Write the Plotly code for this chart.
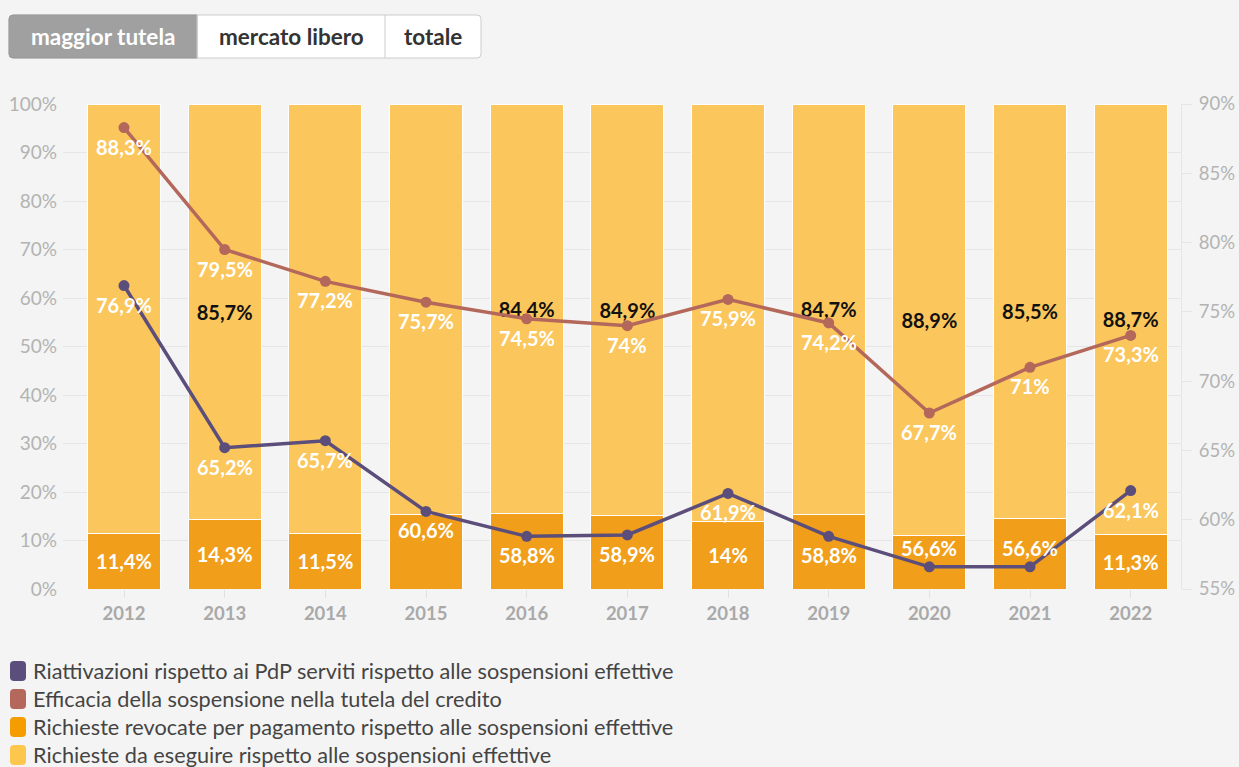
import plotly.graph_objects as go

years = ["2012", "2013", "2014", "2015", "2016", "2017", "2018", "2019", "2020", "2021", "2022"]
revocate = [11.4, 14.3, 11.5, 15.4, 15.6, 15.1, 14.0, 15.3, 11.1, 14.5, 11.3]
da_eseguire = [88.6, 85.7, 88.5, 84.6, 84.4, 84.9, 86.0, 84.7, 88.9, 85.5, 88.7]
efficacia = [88.3, 79.5, 77.2, 75.7, 74.5, 74.0, 75.9, 74.2, 67.7, 71.0, 73.3]
riattivazioni = [76.9, 65.2, 65.7, 60.6, 58.8, 58.9, 61.9, 58.8, 56.6, 56.6, 62.1]
# bar labels that are hidden in the original (overlapping with line labels)
show_revocate = [True, True, True, False, False, False, True, False, False, False, True]
show_eseguire = [False, True, False, False, True, True, False, True, True, True, True]

left_ticks = [0, 10, 20, 30, 40, 50, 60, 70, 80, 90, 100]
right_ticks = [55, 60, 65, 70, 75, 80, 85, 90]

series_names = [
    "Riattivazioni rispetto ai PdP serviti rispetto alle sospensioni effettive",
    "Efficacia della sospensione nella tutela del credito",
    "Richieste revocate per pagamento rispetto alle sospensioni effettive",
    "Richieste da eseguire rispetto alle sospensioni effettive",
]
buttons = ["maggior tutela", "mercato libero", "totale"]

C_PURPLE = "#5c4e7a"
C_RED = "#b3685b"
C_ORANGE = "#f19e1b"
C_YELLOW = "#fbc65b"
FONT = "Lato"

W, H = 1239, 767
ML, MR, MT, MB = 63, 58, 104, 178
PW = W - ML - MR
PH = H - MT - MB


def fmt(v):
    s = f"{v:.1f}"
    if s.endswith(".0"):
        s = s[:-2]
    return s.replace(".", ",") + "%"


def X(px):
    return (px - ML) / PW


def Y(py):
    return (H - MB - py) / PH


def rrect(x0, y0, x1, y1, r, rl=True, rr=True):
    p = []
    if rl:
        p.append(f"M{X(x0)},{Y(y0 + r)}")
        p.append(f"Q{X(x0)},{Y(y0)} {X(x0 + r)},{Y(y0)}")
    else:
        p.append(f"M{X(x0)},{Y(y0)}")
    if rr:
        p.append(f"L{X(x1 - r)},{Y(y0)}")
        p.append(f"Q{X(x1)},{Y(y0)} {X(x1)},{Y(y0 + r)}")
        p.append(f"L{X(x1)},{Y(y1 - r)}")
        p.append(f"Q{X(x1)},{Y(y1)} {X(x1 - r)},{Y(y1)}")
    else:
        p.append(f"L{X(x1)},{Y(y0)}")
        p.append(f"L{X(x1)},{Y(y1)}")
    if rl:
        p.append(f"L{X(x0 + r)},{Y(y1)}")
        p.append(f"Q{X(x0)},{Y(y1)} {X(x0)},{Y(y1 - r)}")
    else:
        p.append(f"L{X(x0)},{Y(y1)}")
    p.append("Z")
    return " ".join(p)


fig = go.Figure()

fig.add_trace(go.Bar(
    x=years, y=revocate, name=series_names[2],
    marker=dict(color=C_ORANGE, line=dict(color="#ffffff", width=1)),
    text=[fmt(v) if s else "" for v, s in zip(revocate, show_revocate)],
    textposition="inside", insidetextanchor="middle",
    textfont=dict(family=FONT, size=20, color="#ffffff", weight="bold"),
    constraintext="none", hoverinfo="skip",
))
fig.add_trace(go.Bar(
    x=years, y=da_eseguire, name=series_names[3],
    marker=dict(color=C_YELLOW, line=dict(color="#ffffff", width=1)),
    text=[fmt(v) if s else "" for v, s in zip(da_eseguire, show_eseguire)],
    textposition="inside", insidetextanchor="middle",
    textfont=dict(family=FONT, size=20, color="#111111", weight="bold"),
    constraintext="none", hoverinfo="skip",
))
fig.add_trace(go.Scatter(
    x=years, y=efficacia, name=series_names[1], yaxis="y2",
    mode="lines+markers",
    line=dict(color=C_RED, width=3.5), marker=dict(color=C_RED, size=11),
    cliponaxis=False,
))
fig.add_trace(go.Scatter(
    x=years, y=riattivazioni, name=series_names[0], yaxis="y2",
    mode="lines+markers",
    line=dict(color=C_PURPLE, width=3.5), marker=dict(color=C_PURPLE, size=11),
    cliponaxis=False,
))

shapes = []
annotations = []

# line value labels (placed below the points, above when near the axis floor)
for series in (efficacia, riattivazioni):
    for i, v in enumerate(series):
        above = v < 57.5
        annotations.append(dict(
            x=i, y=v, xref="x", yref="y2", text=f"<b>{fmt(v)}</b>", showarrow=False,
            xanchor="center", yanchor="middle", yshift=19 if above else -19,
            font=dict(family=FONT, size=20, color="#ffffff"),
        ))

# button group
shapes.append(dict(type="path", xref="paper", yref="paper",
                   path=rrect(9, 15, 481, 58, 4), fillcolor="#ffffff",
                   line=dict(color="#cccccc", width=1), layer="above"))
shapes.append(dict(type="path", xref="paper", yref="paper",
                   path=rrect(9, 15, 197, 58, 4, rl=True, rr=False), fillcolor="#a0a0a0",
                   line=dict(color="#999999", width=1), layer="above"))
for xv in (197, 385):
    shapes.append(dict(type="line", xref="paper", yref="paper",
                       x0=X(xv), x1=X(xv), y0=Y(15), y1=Y(58),
                       line=dict(color="#cccccc", width=1), layer="above"))
btn_centers = [103, 291, 433]
for name, cx, col in zip(buttons, btn_centers, ["#ffffff", "#333333", "#333333"]):
    annotations.append(dict(text=f"<b>{name}</b>", x=X(cx), y=Y(36.5), xref="paper", yref="paper",
                            showarrow=False, xanchor="center", yanchor="middle",
                            font=dict(family=FONT, size=22.5, color=col)))

# legend
leg_colors = [C_PURPLE, C_RED, "#f59c00", "#fdc74e"]
for i, (name, col) in enumerate(zip(series_names, leg_colors)):
    cy = 671 + 28 * i
    shapes.append(dict(type="path", xref="paper", yref="paper",
                       path=rrect(10, cy - 10, 26, cy + 10, 4), fillcolor=col,
                       line=dict(width=0), layer="above"))
    annotations.append(dict(text=name, x=X(31), y=Y(cy), xref="paper", yref="paper",
                            showarrow=False, xanchor="left", yanchor="middle",
                            font=dict(family=FONT, size=21.7, color="#444444")))

fig.update_layout(
    width=W, height=H,
    margin=dict(l=ML, r=MR, t=MT, b=MB, pad=0, autoexpand=False),
    paper_bgcolor="#f4f4f4", plot_bgcolor="#f4f4f4",
    barmode="stack", bargap=0.275,
    showlegend=False,
    font=dict(family=FONT),
    xaxis=dict(type="category", range=[-0.606, 10.5], showgrid=False, zeroline=False,
               showline=False, automargin=False,
               ticks="outside", ticklen=8, tickcolor="#e2e2e2",
               tickfont=dict(family=FONT, size=18.5, color="#a9a9a9", weight="bold")),
    yaxis=dict(range=[0, 100], tickmode="array", tickvals=left_ticks,
               ticktext=[f"{v}%" for v in left_ticks], automargin=False,
               showgrid=True, gridcolor="#e6e6e6", gridwidth=1, zeroline=False,
               ticks="", ticklabelstandoff=5,
               tickfont=dict(family=FONT, size=19, color="#b3b3b3")),
    yaxis2=dict(range=[55, 90], tickmode="array", tickvals=right_ticks,
                ticktext=[f"{v}%" for v in right_ticks], overlaying="y", automargin=False,
                side="right", showgrid=False, zeroline=False, showline=True,
                linecolor="#e6e6e6", ticks="outside", ticklen=10, tickcolor="#e6e6e6",
                ticklabelstandoff=3,
                tickfont=dict(family=FONT, size=18.5, color="#b3b3b3")),
    shapes=shapes, annotations=annotations,
)

fig.write_html("out.html", config={"displayModeBar": False},
               post_script="document.body.style.margin='0';document.body.style.background='#f4f4f4';")
